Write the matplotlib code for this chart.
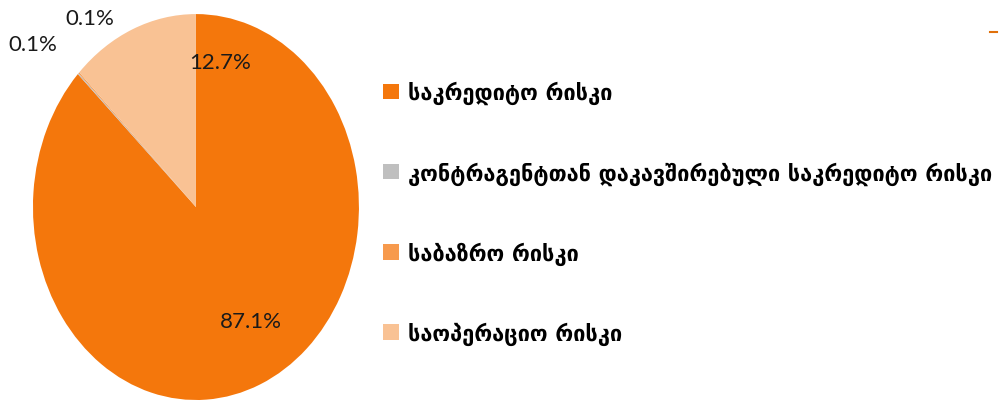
import matplotlib.pyplot as plt
from matplotlib.patches import Patch
from matplotlib.lines import Line2D

# risk shares (%)
categories = ['საკრედიტო რისკი',
              'კონტრაგენტთან დაკავშირებული საკრედიტო რისკი',
              'საბაზრო რისკი',
              'საოპერაციო რისკი']
shares = [87.1, 0.1, 0.1, 12.7]
pct_labels = ['87.1%', '0.1%', '0.1%', '12.7%']
colors = ['#F4770C', '#BFBFBF', '#F79A4D', '#F9C294']

# where each percentage label sits, in pie units (x, y)
label_pos = [(0.34, -0.59), (-1.0, 0.845), (-0.65, 0.98), (0.15, 0.75)]

fig = plt.figure(figsize=(9.99, 4.02), dpi=100)
ax = fig.add_axes([0.033, 0.0025, 0.3263, 0.960])

wedges, _ = ax.pie(shares, colors=colors, startangle=90, counterclock=False,
                   radius=1, wedgeprops=dict(linewidth=0))
ax.set_aspect('auto')
ax.set_xlim(-1, 1)
ax.set_ylim(-1, 1)
ax.axis('off')

for txt, (x, y) in zip(pct_labels, label_pos):
    ax.text(x, y, txt, ha='center', va='center', fontsize=16,
            family=['Lato', 'DejaVu Sans'], color='#1a1a1a', clip_on=False)

handles = [Patch(facecolor=c, edgecolor='none') for c in colors]
fig.legend(handles, categories, loc='upper left', bbox_to_anchor=(0.375, 0.818),
           frameon=False, handlelength=0.72, handleheight=0.72,
           handletextpad=0.4, labelspacing=2.6, borderaxespad=0,
           prop={'family': 'DejaVu Sans', 'size': 15.7, 'weight': 'bold'})

# small stray marker top right
fig.add_artist(Line2D([0.991, 0.998], [0.918, 0.918], color='#E0700A', lw=1.5))

fig.savefig('out.png', dpi=100)
